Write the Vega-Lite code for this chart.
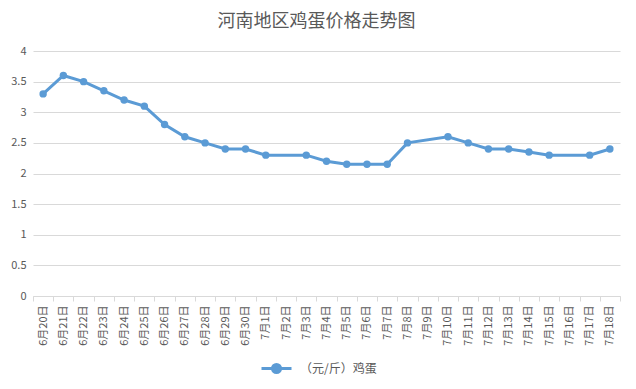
{
  "$schema": "https://vega.github.io/schema/vega-lite/v6.json",
  "width": 587,
  "height": 245,
  "autosize": {"type": "none"},
  "padding": {"left": 33, "top": 51, "right": 16, "bottom": 93},
  "background": "white",
  "config": {
    "font": "Noto Sans CJK SC",
    "view": {"stroke": null}
  },
  "title": {
    "text": "河南地区鸡蛋价格走势图",
    "fontSize": 18,
    "font": "Noto Sans CJK SC",
    "fontWeight": "normal",
    "color": "#595959",
    "offset": 14,
    "anchor": "middle",
    "dx": -10
  },
  "data": {
    "values": [
      {"date": "6月20日", "price": 3.3, "series": "（元/斤）鸡蛋"},
      {"date": "6月21日", "price": 3.6, "series": "（元/斤）鸡蛋"},
      {"date": "6月22日", "price": 3.5, "series": "（元/斤）鸡蛋"},
      {"date": "6月23日", "price": 3.35, "series": "（元/斤）鸡蛋"},
      {"date": "6月24日", "price": 3.2, "series": "（元/斤）鸡蛋"},
      {"date": "6月25日", "price": 3.1, "series": "（元/斤）鸡蛋"},
      {"date": "6月26日", "price": 2.8, "series": "（元/斤）鸡蛋"},
      {"date": "6月27日", "price": 2.6, "series": "（元/斤）鸡蛋"},
      {"date": "6月28日", "price": 2.5, "series": "（元/斤）鸡蛋"},
      {"date": "6月29日", "price": 2.4, "series": "（元/斤）鸡蛋"},
      {"date": "6月30日", "price": 2.4, "series": "（元/斤）鸡蛋"},
      {"date": "7月1日", "price": 2.3, "series": "（元/斤）鸡蛋"},
      {"date": "7月3日", "price": 2.3, "series": "（元/斤）鸡蛋"},
      {"date": "7月4日", "price": 2.2, "series": "（元/斤）鸡蛋"},
      {"date": "7月5日", "price": 2.15, "series": "（元/斤）鸡蛋"},
      {"date": "7月6日", "price": 2.15, "series": "（元/斤）鸡蛋"},
      {"date": "7月7日", "price": 2.15, "series": "（元/斤）鸡蛋"},
      {"date": "7月8日", "price": 2.5, "series": "（元/斤）鸡蛋"},
      {"date": "7月10日", "price": 2.6, "series": "（元/斤）鸡蛋"},
      {"date": "7月11日", "price": 2.5, "series": "（元/斤）鸡蛋"},
      {"date": "7月12日", "price": 2.4, "series": "（元/斤）鸡蛋"},
      {"date": "7月13日", "price": 2.4, "series": "（元/斤）鸡蛋"},
      {"date": "7月14日", "price": 2.35, "series": "（元/斤）鸡蛋"},
      {"date": "7月15日", "price": 2.3, "series": "（元/斤）鸡蛋"},
      {"date": "7月17日", "price": 2.3, "series": "（元/斤）鸡蛋"},
      {"date": "7月18日", "price": 2.4, "series": "（元/斤）鸡蛋"}
    ]
  },
  "encoding": {
    "x": {
      "field": "date",
      "type": "ordinal",
      "sort": null,
      "bandPosition": 0.5,
      "scale": {
        "type": "band",
        "paddingInner": 0,
        "paddingOuter": 0,
        "domain": ["6月20日","6月21日","6月22日","6月23日","6月24日","6月25日","6月26日","6月27日","6月28日","6月29日","6月30日","7月1日","7月2日","7月3日","7月4日","7月5日","7月6日","7月7日","7月8日","7月9日","7月10日","7月11日","7月12日","7月13日","7月14日","7月15日","7月16日","7月17日","7月18日"]
      },
      "axis": {
        "title": null,
        "labelAngle": 270,
        "labelAlign": "right",
        "labelBaseline": "middle",
        "labelFontSize": 11,
        "labelColor": "#595959",
        "labelPadding": 4,
        "tickBand": "extent",
        "ticks": true,
        "tickSize": 5,
        "tickColor": "#d9d9d9",
        "domainColor": "#d9d9d9",
        "grid": false
      }
    },
    "y": {
      "field": "price",
      "type": "quantitative",
      "scale": {"domain": [0, 4], "nice": false, "zero": true},
      "axis": {
        "title": null,
        "values": [0, 0.5, 1, 1.5, 2, 2.5, 3, 3.5, 4],
        "labelExpr": "'' + datum.value",
        "labelFontSize": 11,
        "labelColor": "#595959",
        "labelPadding": 7,
        "domain": false,
        "ticks": false,
        "grid": true,
        "gridColor": "#d9d9d9"
      }
    },
    "color": {
      "field": "series",
      "type": "nominal",
      "scale": {"range": ["#5b9bd5"]},
      "legend": {
        "title": null,
        "orient": "none",
        "legendX": 227,
        "legendY": 301,
        "direction": "horizontal",
        "symbolType": "M-1,0L1,0M0.27,0A0.27,0.27,0,1,1,-0.27,0A0.27,0.27,0,1,1,0.27,0",
        "symbolSize": 900,
        "symbolStrokeWidth": 3,
        "symbolFillColor": "#5b9bd5",
        "symbolStrokeColor": "#5b9bd5",
        "labelFontSize": 12,
        "labelColor": "#595959",
        "labelOffset": 7
      }
    }
  },
  "layer": [
    {"mark": {"type": "line", "strokeWidth": 3}},
    {"mark": {"type": "point", "filled": true, "size": 55, "opacity": 1}}
  ]
}
